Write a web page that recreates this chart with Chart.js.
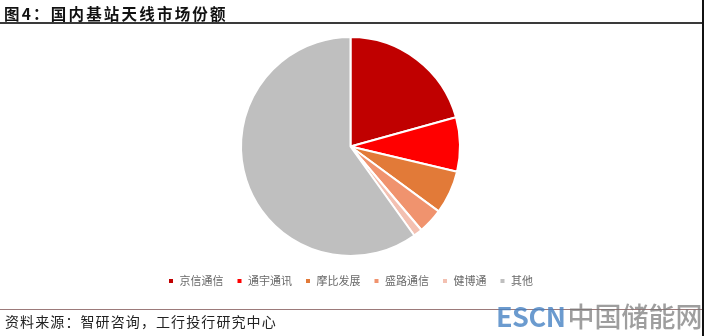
<!DOCTYPE html>
<html>
<head>
<meta charset="utf-8">
<script src="https://cdn.jsdelivr.net/npm/chart.js@4"></script>
<style>
  html,body{margin:0;padding:0;background:#fff;}
  #wrap{position:relative;width:704px;height:336px;overflow:hidden;background:#fff;}
  #title{position:absolute;left:4px;top:2px;font-family:"Noto Sans CJK SC",sans-serif;font-weight:700;font-size:15.5px;letter-spacing:2.2px;color:#111;line-height:22px;white-space:nowrap;}
  #topline{position:absolute;left:0;top:22px;width:702px;height:2px;background:#3a3a3a;}
  #botline{position:absolute;left:0;top:309px;width:702px;height:1px;background:#9c7a7a;}
  #source{position:absolute;left:5px;top:311px;font-family:"Noto Sans CJK SC",sans-serif;font-size:14px;color:#222;line-height:20px;white-space:nowrap;letter-spacing:1.1px;}
  #wm{position:absolute;left:496px;top:297px;font-family:"Noto Sans CJK SC",sans-serif;font-size:27px;line-height:38px;white-space:nowrap;font-weight:700;}
  #wm .a{color:rgba(70,130,195,0.8);letter-spacing:-0.5px;}
  #wm .b{color:rgba(120,120,120,0.72);font-weight:500;margin-left:2px;}
  #rightedge{position:absolute;left:702px;top:0;width:2px;height:336px;background:#111;}
  #c{position:absolute;left:0;top:0;}
</style>
</head>
<body>
<div id="wrap">
  <canvas id="c" width="704" height="336"></canvas>
  <div id="title">图4：国内基站天线市场份额</div>
  <div id="topline"></div>
  <div id="botline"></div>
  <div id="source">资料来源：智研咨询，工行投行研究中心</div>
  <div id="wm"><span class="a">ESCN</span><span class="b">中国储能网</span></div>
  <div id="rightedge"></div>
</div>
<script>
const categories = ["京信通信", "通宇通讯", "摩比发展", "盛路通信", "健博通", "其他"];
const shares = [20.7, 8.0, 6.4, 3.7, 1.3, 59.9];
const colors = ["#C00000", "#FF0000", "#E27A38", "#F0936E", "#F3C0B1", "#BFBFBF"];

new Chart(document.getElementById("c"), {
  type: "pie",
  data: {
    labels: categories,
    datasets: [{
      data: shares,
      backgroundColor: colors,
      borderColor: "#FFFFFF",
      borderWidth: 2
    }]
  },
  options: {
    responsive: false,
    animation: false,
    radius: 109.5,
    layout: { padding: { top: 30.5, bottom: 39.5, left: 0, right: 3 } },
    plugins: {
      tooltip: { enabled: false },
      legend: {
        position: "bottom",
        labels: {
          boxWidth: 6,
          boxHeight: 6,
          padding: 13,
          color: "#6a6a6a",
          font: { family: "'Noto Sans CJK SC', sans-serif", size: 11 }
        }
      }
    }
  }
});
</script>
</body>
</html>
